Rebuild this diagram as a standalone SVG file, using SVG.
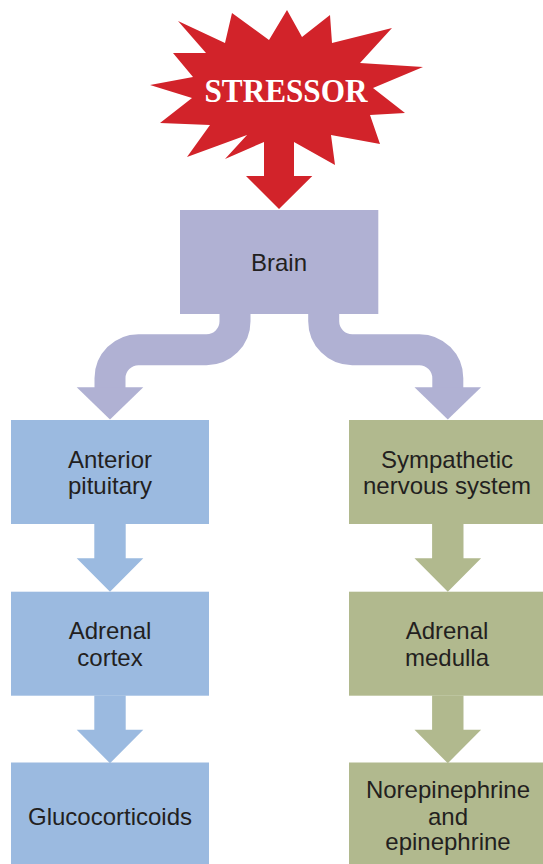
<svg xmlns="http://www.w3.org/2000/svg" xmlns:xlink="http://www.w3.org/1999/xlink" width="543" height="864" viewBox="0 0 543 864">
<style>
.red{fill:#d2232a}
.brain{fill:#b0b1d3}
.blue{fill:#9bbae0}
.green{fill:#b1b98e}
.lbl{font-family:"Liberation Sans",Arial,Helvetica,sans-serif;font-size:24px;fill:#231f20;text-anchor:middle}
.stress{font-family:"Liberation Serif","Times New Roman",serif;font-weight:bold;font-size:33px;fill:#ffffff}
.curve{fill:none;stroke:#b0b1d3;stroke-width:31}
</style>
<defs>
<path id="down" d="M-15.7,0 H15.7 V34.3 H33.3 L0,67.7 L-33.3,34.3 H-15.7 Z"/>
<path id="head" d="M-33.3,0 H33.3 L0,32.3 Z"/>
</defs>
<g id="connectors">
<polygon id="stressor-arrow" class="red" points="264,135 294,135 294,176 312.3,176 279,209 246,176 264,176"/>
<g id="brain-to-pituitary">
<path class="curve" d="M235,314 V321.2 A28.5,28.5 0 0 1 206.5,349.7 H138.5 A28.5,28.5 0 0 0 110,378.2 V388"/>
<use xlink:href="#head" href="#head" class="brain" transform="translate(110,387.3)"/>
</g>
<g id="brain-to-sympathetic">
<path class="curve" d="M323.7,314 V321.2 A28.5,28.5 0 0 0 352.2,349.7 H419.3 A28.5,28.5 0 0 1 447.8,378.2 V388"/>
<use xlink:href="#head" href="#head" class="brain" transform="translate(447.8,387.3)"/>
</g>
<use xlink:href="#down" href="#down" class="blue" transform="translate(110,524)"/>
<use xlink:href="#down" href="#down" class="blue" transform="translate(110,695.5)"/>
<use xlink:href="#down" href="#down" class="green" transform="translate(447.8,524)"/>
<use xlink:href="#down" href="#down" class="green" transform="translate(447.8,695.5)"/>
</g>
<g id="stressor">
<polygon class="red" points="178,21 206,53 173,53 193,77 150,85 192,98 160,123 210,125 187,157 247,135 225,159 264,142 294,142 335,165 331,135 380,144 370,115 405,113 373,88 423,67 360,63 392,28 332,43 330,15 302,37 287,10 269,40 232,13 225,43"/>
<text class="stress" x="204.5" y="101.7" textLength="163" lengthAdjust="spacingAndGlyphs">STRESSOR</text>
</g>
<g id="brain">
<rect class="brain" x="180" y="210" width="198.3" height="104"/>
<text class="lbl" x="279" y="270.7">Brain</text>
</g>
<g id="anterior-pituitary">
<rect class="blue" x="11" y="420" width="198" height="104"/>
<text class="lbl" x="110" y="467.5">Anterior</text>
<text class="lbl" x="110" y="494">pituitary</text>
</g>
<g id="adrenal-cortex">
<rect class="blue" x="11" y="591.7" width="198" height="104"/>
<text class="lbl" x="110" y="639.3">Adrenal</text>
<text class="lbl" x="110" y="666">cortex</text>
</g>
<g id="glucocorticoids">
<rect class="blue" x="11" y="762.5" width="198" height="101.5"/>
<text class="lbl" x="110" y="825">Glucocorticoids</text>
</g>
<g id="sympathetic-nervous-system">
<rect class="green" x="349" y="420" width="194" height="104"/>
<text class="lbl" x="447" y="467.5">Sympathetic</text>
<text class="lbl" x="447" y="494">nervous system</text>
</g>
<g id="adrenal-medulla">
<rect class="green" x="349" y="591.7" width="194" height="104"/>
<text class="lbl" x="447" y="639.3">Adrenal</text>
<text class="lbl" x="447" y="666">medulla</text>
</g>
<g id="norepinephrine-epinephrine">
<rect class="green" x="349" y="762.5" width="194" height="101.5"/>
<text class="lbl" x="448" y="798">Norepinephrine</text>
<text class="lbl" x="448" y="824.5">and</text>
<text class="lbl" x="448" y="850">epinephrine</text>
</g>
</svg>
